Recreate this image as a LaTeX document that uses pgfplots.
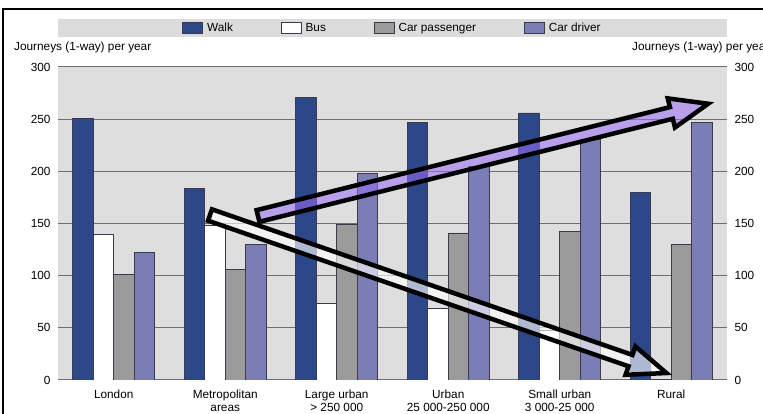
\documentclass[border=0pt]{standalone}
\usepackage{pgfplots}
\pgfplotsset{compat=1.18}
\usepackage{fontspec}
\setmainfont{Liberation Sans}
\definecolor{walkc}{HTML}{2D4889}
\definecolor{busc}{HTML}{FFFFFF}
\definecolor{cpc}{HTML}{9B9B9B}
\definecolor{cdc}{HTML}{7B7DB5}
\definecolor{plotbg}{HTML}{DEDEDE}
\definecolor{bandc}{HTML}{DCDCDC}
\definecolor{gridc}{HTML}{6E6E6E}
\definecolor{barline}{HTML}{3A3A4A}
\definecolor{arrowpurple}{HTML}{9B6DF5}
\begin{document}
\begin{tikzpicture}
\useasboundingbox (0pt,0pt) rectangle (763pt,414pt);
\fill[white] (0pt,0pt) rectangle (763pt,414pt);
\fill[bandc] (58pt,377pt) rectangle (727pt,395pt);
\begin{axis}[
  at={(58pt,34pt)}, anchor=south west,
  scale only axis, width=669pt, height=313pt,
  xmin=-0.5, xmax=5.5, ymin=0, ymax=300,
  ybar=0pt, bar width=20.5pt,
  xtick={0,1,2,3,4,5},
  xticklabels={London, Metropolitan\\areas, Large urban\\> 250 000, Urban\\25 000-250 000, Small urban\\3 000-25 000, Rural},
  ytick={0,50,100,150,200,250,300},
  major tick length=0pt,
  axis line style={draw=none},
  axis background/.style={fill=plotbg},
  ymajorgrids, grid style={gridc, line width=1pt},
  /pgf/number format/assume math mode=true,
  tick label style={font=\fontsize{11.8}{13.5}\selectfont},
  xticklabel style={align=center, yshift=-6pt},
  yticklabel style={xshift=-4pt},
  legend columns=4,
  legend style={at={(axis description cs:0.5,1.1246)}, anchor=center, draw=none, fill=none,
    font=\fontsize{11.8}{13.5}\selectfont,
    /tikz/every odd column/.append style={column sep=2pt},
    /tikz/every even column/.append style={column sep=46pt}},
  legend image code/.code={\draw[#1,draw=barline,line width=0.7pt] (0pt,-5.5pt) rectangle (20pt,5.5pt);},
  every axis plot/.append style={draw=barline, line width=0.7pt},
]
\addplot[fill=walkc] coordinates {(0,251) (1,184) (2,271) (3,247) (4,256) (5,180)};
\addplot[fill=busc] coordinates {(0,140) (1,148) (2,73) (3,69) (4,48) (5,1)};
\addplot[fill=cpc] coordinates {(0,101) (1,106) (2,149) (3,141) (4,142) (5,130)};
\addplot[fill=cdc] coordinates {(0,122) (1,130) (2,198) (3,205) (4,231) (5,247)};
\legend{Walk, Bus, Car passenger, Car driver}
\end{axis}
\begin{axis}[
  at={(58pt,34pt)}, anchor=south west,
  scale only axis, width=669pt, height=313pt,
  xmin=-0.5, xmax=5.5, ymin=0, ymax=300,
  hide x axis,
  axis y line*=right,
  y axis line style={draw=none},
  ytick={0,50,100,150,200,250,300},
  major tick length=0pt,
  /pgf/number format/assume math mode=true,
  tick label style={font=\fontsize{11.8}{13.5}\selectfont},
  yticklabel style={xshift=4pt},
]
\addplot[draw=none] coordinates {(0,0)};
\end{axis}
\node[anchor=west, inner sep=0pt, font=\fontsize{11.8}{13.5}\selectfont] at (14pt,367pt) {Journeys (1-way) per year};
\node[anchor=west, inner sep=0pt, font=\fontsize{11.8}{13.5}\selectfont] at (632pt,367pt) {Journeys (1-way) per year};
% annotation arrows
\begin{scope}[shift={(258pt,198pt)}, rotate=14]
\fill[arrowpurple, fill opacity=0.55] (0pt,-6pt) -- (426pt,-6pt) -- (426pt,-15pt) -- (464pt,0pt) -- (426pt,15pt) -- (426pt,6pt) -- (0pt,6pt) -- cycle;
\draw[black, line width=4.5pt, line join=miter] (0pt,-6pt) -- (426pt,-6pt) -- (426pt,-15pt) -- (464pt,0pt) -- (426pt,15pt) -- (426pt,6pt) -- (0pt,6pt) -- cycle;
\end{scope}
\begin{scope}[shift={(210pt,199pt)}, rotate=-19.1]
\fill[white, fill opacity=0.62] (0pt,-6pt) -- (445pt,-6pt) -- (445pt,-15pt) -- (483pt,0pt) -- (445pt,15pt) -- (445pt,6pt) -- (0pt,6pt) -- cycle;
\draw[black, line width=4.5pt, line join=miter] (0pt,-6pt) -- (445pt,-6pt) -- (445pt,-15pt) -- (483pt,0pt) -- (445pt,15pt) -- (445pt,6pt) -- (0pt,6pt) -- cycle;
\end{scope}
% frame
\draw[black, line width=2pt] (2.5pt,-5pt) -- (2.5pt,405pt) -- (770pt,405pt);
\end{tikzpicture}
\end{document}
